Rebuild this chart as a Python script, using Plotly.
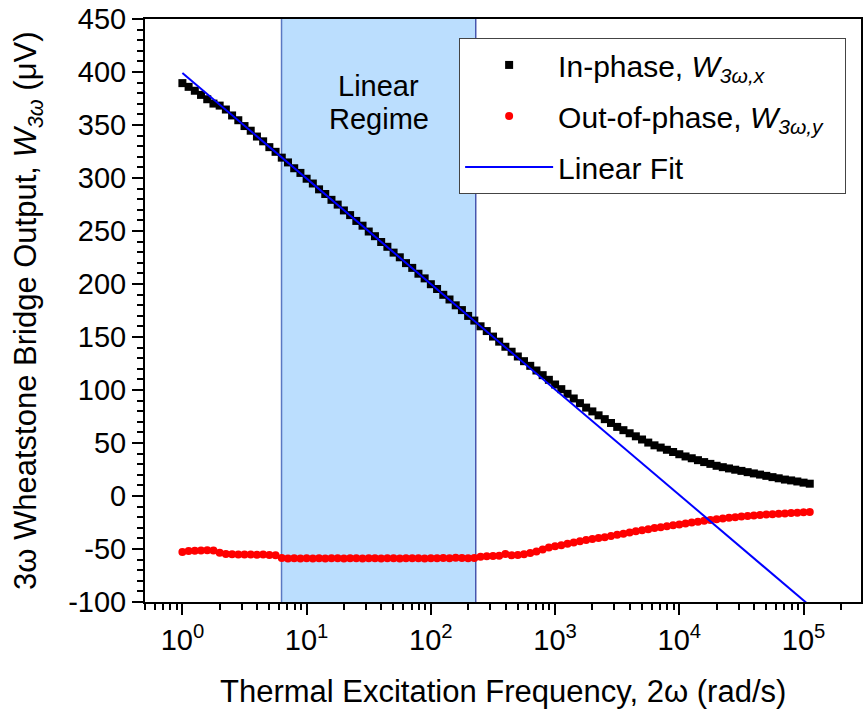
import numpy as np
import plotly.graph_objects as go

# Frequency sweep (rad/s), log-spaced from 10^0 to ~1.1x10^5
FREQ_LOG_START = 0.0
FREQ_LOG_STOP = 5.05

# In-phase bridge output W_3w,x (uV)
in_phase = [
    389.5, 386.0, 382.3, 378.4, 374.3, 370.2, 368.3, 364.6, 359.0, 354.5,
    349.0, 344.6, 339.1, 334.6, 329.1, 324.7, 319.2, 314.7, 309.2, 304.8,
    299.3, 294.8, 289.3, 284.9, 279.4, 274.9, 269.4, 265.0, 259.5, 255.0,
    249.5, 245.1, 239.6, 235.1, 229.6, 225.2, 219.7, 215.2, 209.7, 205.3,
    199.8, 195.3, 189.8, 185.4, 179.9, 175.4, 169.9, 165.5, 160.1, 155.6,
    150.4, 145.6, 140.8, 136.1, 131.6, 127.2, 122.8, 118.4, 114.0, 109.6,
    105.2, 100.8, 96.4, 92.0, 87.6, 83.4, 79.8, 76.1, 72.5, 68.9,
    65.2, 62.1, 59.2, 56.3, 53.3, 50.4, 47.8, 45.7, 43.6, 41.5,
    39.4, 37.3, 35.6, 33.8, 32.0, 30.3, 28.5, 27.2, 26.0, 24.8,
    23.7, 22.5, 21.3, 20.2, 19.0, 17.8, 16.7, 15.5, 14.7, 13.7,
    12.6, 11.6,
]

# Out-of-phase bridge output W_3w,y (uV)
out_of_phase = [
    -52.8, -52.0, -51.6, -51.3, -51.1, -51.4, -53.6, -54.7, -55.0, -55.2,
    -55.3, -55.1, -55.4, -55.3, -55.6, -56.0, -58.6, -58.9, -58.8, -58.9,
    -58.8, -58.9, -58.7, -58.9, -58.8, -58.8, -58.9, -58.7, -58.8, -58.9,
    -58.8, -58.7, -58.9, -58.8, -58.8, -58.9, -58.7, -58.8, -58.8, -58.9,
    -58.7, -58.8, -58.5, -58.8, -58.3, -58.6, -58.7, -58.5, -57.3, -56.9,
    -56.6, -56.4, -54.6, -56.0, -55.6, -55.0, -53.8, -52.3, -50.4, -48.7,
    -47.5, -46.4, -45.1, -43.8, -42.6, -41.5, -40.6, -39.7, -38.8, -37.7,
    -36.6, -35.5, -34.4, -33.3, -32.3, -31.3, -30.3, -29.4, -28.5, -27.6,
    -26.8, -25.9, -25.0, -24.2, -23.4, -22.6, -21.9, -21.2, -20.6, -20.0,
    -19.4, -18.9, -18.4, -17.9, -17.5, -17.1, -16.7, -16.4, -16.0, -15.7,
    -15.4, -15.1,
]

# Linear fit W = a + b*log10(2w) over the linear regime
FIT_INTERCEPT = 399.0
FIT_SLOPE = -99.5
FIT_FREQ_RANGE = [1.0, 1.2e5]

# Linear regime bounds (rad/s)
REGIME_LOW = 6.28
REGIME_HIGH = 230.0

# Axis settings
X_RANGE = [0.5, 2.9e5]
Y_RANGE = [-100, 450]
X_MAJOR_EXP = [0, 1, 2, 3, 4, 5]
X_TICK_TEXT = ["10<sup>%d</sup>" % e for e in X_MAJOR_EXP]
Y_TICKS = [-100, -50, 0, 50, 100, 150, 200, 250, 300, 350, 400, 450]
Y_TICK_TEXT = [str(v) for v in Y_TICKS]

FONT = "Liberation Sans, Arial, Helvetica, sans-serif"

freq = np.logspace(FREQ_LOG_START, FREQ_LOG_STOP, len(in_phase))
fit_freq = np.array(FIT_FREQ_RANGE)
fit_vals = FIT_INTERCEPT + FIT_SLOPE * np.log10(fit_freq)

x_major = [10.0 ** e for e in X_MAJOR_EXP]
x_minor = [m * 10.0 ** e for e in range(-1, 6) for m in range(2, 10)
           if X_RANGE[0] <= m * 10.0 ** e <= X_RANGE[1]]


def paper_y(py):
    """Convert a pixel row inside the plot frame to a paper fraction."""
    return 1 - (py - 17) / 585


fig = go.Figure()

fig.add_trace(go.Scatter(
    x=freq, y=in_phase, mode="markers",
    name="In-phase, <i>W</i><sub><i>3\u03c9,x</i></sub>",
    marker=dict(symbol="square", size=8, color="black"),
    legendgroup="a",
))
fig.add_trace(go.Scatter(
    x=freq, y=out_of_phase, mode="markers",
    name="Out-of-phase, <i>W</i><sub><i>3\u03c9,y</i></sub>\u00a0\u00a0",
    marker=dict(symbol="circle", size=8, color="#ff0000"),
    legendgroup="b",
))
fig.add_trace(go.Scatter(
    x=fit_freq, y=fit_vals, mode="lines",
    name="Linear Fit",
    line=dict(color="#0000ff", width=2),
    legendgroup="c",
))

# Shaded linear regime with its boundary lines
fig.add_shape(type="rect", xref="x", yref="paper", x0=REGIME_LOW, x1=REGIME_HIGH,
              y0=0, y1=1, fillcolor="#bbdefe", line_width=0, layer="below")
fig.add_shape(type="line", xref="x", yref="paper", x0=REGIME_LOW, x1=REGIME_LOW,
              y0=0, y1=1, line=dict(color="#5a78c2", width=1.5), layer="below")
fig.add_shape(type="line", xref="x", yref="paper", x0=REGIME_HIGH, x1=REGIME_HIGH,
              y0=0, y1=1, line=dict(color="#26339c", width=1.2), layer="below")

regime_center = np.log10(np.sqrt(REGIME_LOW * REGIME_HIGH))
for label, py in (("Linear", 84), ("Regime", 117)):
    fig.add_annotation(
        x=regime_center, xref="x", y=paper_y(py), yref="paper", text=label,
        showarrow=False, font=dict(size=29, color="black", family=FONT),
        xanchor="center", yanchor="middle",
    )

# Axis titles
fig.add_annotation(
    x=0.5, xref="paper", y=paper_y(692), yref="paper",
    text="Thermal Excitation Frequency, 2\u03c9 (rad/s)", showarrow=False,
    font=dict(size=31, color="black", family=FONT), xanchor="center", yanchor="middle",
)
fig.add_annotation(
    x=-0.164, xref="paper", y=0.5, yref="paper",
    text="3\u03c9 Wheatstone Bridge Output, <i>W</i><sub><i>3\u03c9</i></sub> (\u03bcV)",
    showarrow=False, textangle=-90,
    font=dict(size=31, color="black", family=FONT), xanchor="center", yanchor="middle",
)

axis_common = dict(
    showline=True, linecolor="black", linewidth=2, mirror=True,
    ticks="outside", ticklen=11, tickwidth=2, tickcolor="black",
    showgrid=False, zeroline=False,
    tickfont=dict(size=29, color="black", family=FONT),
)

fig.update_xaxes(
    type="log", range=[np.log10(X_RANGE[0]), np.log10(X_RANGE[1])],
    tickmode="array", tickvals=x_major, ticktext=X_TICK_TEXT,
    minor=dict(tickmode="array", tickvals=x_minor, ticks="outside", ticklen=6,
               tickwidth=2, tickcolor="black", showgrid=False),
    **axis_common,
)
fig.update_yaxes(
    range=Y_RANGE, tickmode="array", tickvals=Y_TICKS, ticktext=Y_TICK_TEXT,
    minor=dict(dtick=10, tick0=0, ticks="outside", ticklen=6, tickwidth=2,
               tickcolor="black", showgrid=False),
    **axis_common,
)

fig.update_layout(
    width=866, height=711,
    margin=dict(l=145, r=3, t=17, b=109),
    plot_bgcolor="white", paper_bgcolor="white",
    font=dict(family=FONT, color="black"),
    showlegend=True,
    legend=dict(
        x=(460 - 145) / 718, y=paper_y(36), xanchor="left", yanchor="top",
        bgcolor="white", bordercolor="#444444", borderwidth=1,
        font=dict(size=30, color="black", family=FONT),
        itemwidth=88, tracegroupgap=9,
    ),
)

fig.write_html("out.html")
